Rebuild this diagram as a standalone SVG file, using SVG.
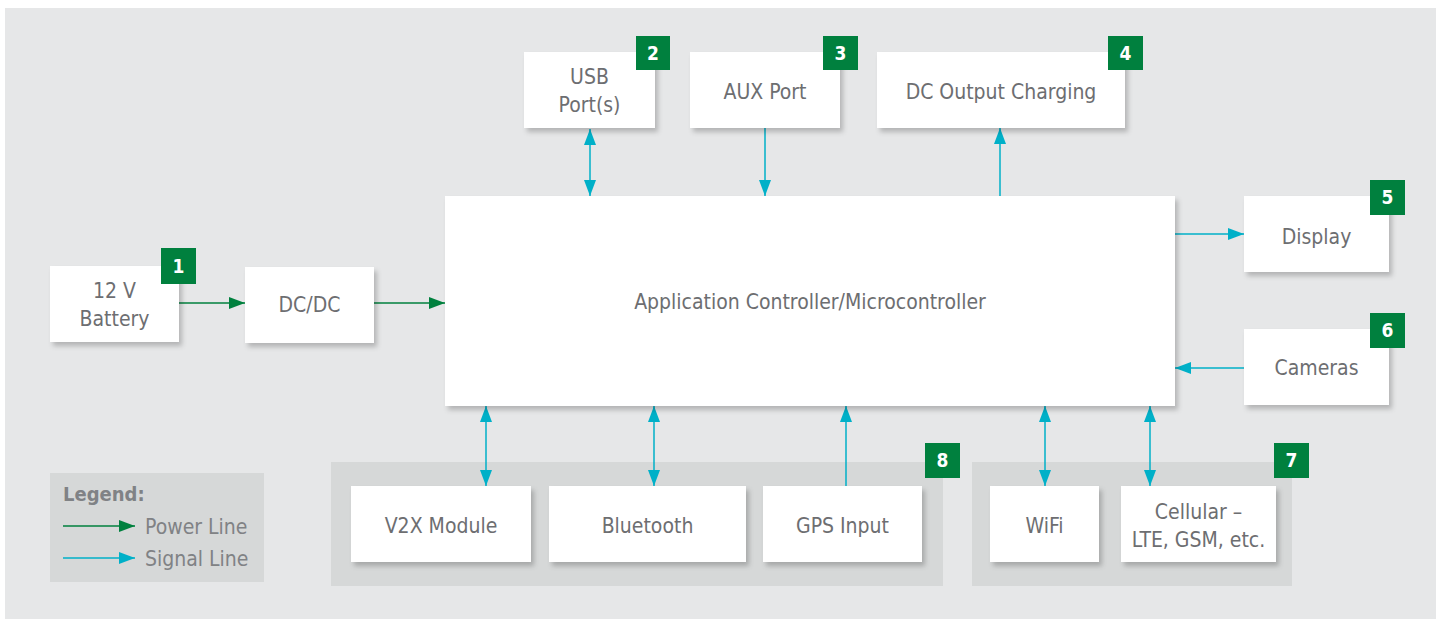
<svg xmlns="http://www.w3.org/2000/svg" width="1436" height="619" viewBox="0 0 1436 619">
<defs>
<style>
.bg{fill:#e6e7e8}
.grp{fill:#d6d8d8}
.box{fill:#ffffff;filter:url(#sh)}
.t{font-family:"Liberation Sans Narrow","DejaVu Sans Condensed","Liberation Sans",sans-serif;font-size:21px;fill:#6d6e71;text-anchor:middle}
.badge{fill:#00803e}
.bt{font-family:"Liberation Sans Narrow","DejaVu Sans Condensed","Liberation Sans",sans-serif;font-size:19px;font-weight:bold;fill:#ffffff;text-anchor:middle}
.sig{stroke:#00b0c8;stroke-width:1.5;fill:none}
.pow{stroke:#00803e;stroke-width:1.5;fill:none}
.lt{font-family:"Liberation Sans Narrow","DejaVu Sans Condensed","Liberation Sans",sans-serif;font-size:21px;fill:#808285}
</style>
<filter id="sh" x="-10%" y="-10%" width="125%" height="135%">
<feDropShadow dx="3" dy="4" stdDeviation="2.5" flood-color="#000" flood-opacity="0.22"/>
</filter>
<marker id="as" markerWidth="16" markerHeight="12" refX="16" refY="6" orient="auto-start-reverse" markerUnits="userSpaceOnUse">
<path d="M0,0 L16,6 L0,12 Z" fill="#00b0c8"/>
</marker>
<marker id="ap" markerWidth="16" markerHeight="12" refX="16" refY="6" orient="auto-start-reverse" markerUnits="userSpaceOnUse">
<path d="M0,0 L16,6 L0,12 Z" fill="#00803e"/>
</marker>
</defs>
<rect x="0" y="0" width="1436" height="619" fill="#ffffff"/>
<rect class="bg" x="5" y="8" width="1431" height="611"/>

<g id="group8">
<rect class="grp" x="331" y="462" width="612" height="124"/>
<rect class="badge" x="925" y="443" width="35" height="35"/>
<text class="bt" x="942.5" y="467">8</text>
</g>
<g id="group7">
<rect class="grp" x="972" y="462" width="320" height="124"/>
<rect class="badge" x="1274" y="443" width="35" height="35"/>
<text class="bt" x="1291.5" y="467">7</text>
</g>

<g id="legend">
<rect class="grp" x="50" y="473" width="214" height="109"/>
<text class="lt" x="63" y="501" font-weight="bold" style="font-size:20px">Legend:</text>
<line class="pow" x1="63" y1="526" x2="135" y2="526" marker-end="url(#ap)"/>
<text class="lt" x="145" y="534">Power Line</text>
<line class="sig" x1="63" y1="558" x2="135" y2="558" marker-end="url(#as)"/>
<text class="lt" x="145" y="566">Signal Line</text>
</g>

<g id="connectors">
<line class="pow" x1="179" y1="303" x2="245" y2="303" marker-end="url(#ap)"/>
<line class="pow" x1="374" y1="303" x2="445" y2="303" marker-end="url(#ap)"/>
<line class="sig" x1="590" y1="129" x2="590" y2="196" marker-start="url(#as)" marker-end="url(#as)"/>
<line class="sig" x1="765" y1="128" x2="765" y2="196" marker-end="url(#as)"/>
<line class="sig" x1="1000" y1="196" x2="1000" y2="128" marker-end="url(#as)"/>
<line class="sig" x1="1175" y1="234" x2="1244" y2="234" marker-end="url(#as)"/>
<line class="sig" x1="1244" y1="368" x2="1175" y2="368" marker-end="url(#as)"/>
<line class="sig" x1="486" y1="406" x2="486" y2="486" marker-start="url(#as)" marker-end="url(#as)"/>
<line class="sig" x1="654" y1="406" x2="654" y2="486" marker-start="url(#as)" marker-end="url(#as)"/>
<line class="sig" x1="846" y1="486" x2="846" y2="406" marker-end="url(#as)"/>
<line class="sig" x1="1045" y1="406" x2="1045" y2="486" marker-start="url(#as)" marker-end="url(#as)"/>
<line class="sig" x1="1150" y1="406" x2="1150" y2="486" marker-start="url(#as)" marker-end="url(#as)"/>
</g>

<g id="battery">
<rect class="box" x="50" y="266" width="129" height="76"/>
<text class="t" x="114.5" y="298">12 V</text>
<text class="t" x="114.5" y="326">Battery</text>
<rect class="badge" x="161" y="248" width="35" height="36"/>
<text class="bt" x="178.5" y="273">1</text>
</g>
<g id="dcdc">
<rect class="box" x="245" y="267" width="129" height="76"/>
<text class="t" x="309.5" y="312">DC/DC</text>
</g>
<g id="main">
<rect class="box" x="445" y="196" width="730" height="210"/>
<text class="t" x="810" y="309">Application Controller/Microcontroller</text>
</g>
<g id="usb">
<rect class="box" x="524" y="52" width="131" height="76"/>
<text class="t" x="589.5" y="84">USB</text>
<text class="t" x="589.5" y="112">Port(s)</text>
<rect class="badge" x="636" y="36" width="34" height="34"/>
<text class="bt" x="653" y="60">2</text>
</g>
<g id="aux">
<rect class="box" x="690" y="52" width="150" height="76"/>
<text class="t" x="765" y="99">AUX Port</text>
<rect class="badge" x="823" y="36" width="35" height="34"/>
<text class="bt" x="840.5" y="60">3</text>
</g>
<g id="dcout">
<rect class="box" x="877" y="52" width="248" height="76"/>
<text class="t" x="1001" y="99">DC Output Charging</text>
<rect class="badge" x="1108" y="36" width="35" height="34"/>
<text class="bt" x="1125.5" y="60">4</text>
</g>
<g id="display">
<rect class="box" x="1244" y="196" width="145" height="76"/>
<text class="t" x="1316.5" y="244">Display</text>
<rect class="badge" x="1370" y="180" width="35" height="35"/>
<text class="bt" x="1387.5" y="204">5</text>
</g>
<g id="cameras">
<rect class="box" x="1244" y="329" width="145" height="76"/>
<text class="t" x="1316.5" y="375">Cameras</text>
<rect class="badge" x="1370" y="313" width="35" height="35"/>
<text class="bt" x="1387.5" y="337">6</text>
</g>
<g id="v2x">
<rect class="box" x="351" y="486" width="180" height="76"/>
<text class="t" x="441" y="533">V2X Module</text>
</g>
<g id="bluetooth">
<rect class="box" x="549" y="486" width="197" height="76"/>
<text class="t" x="647.5" y="533">Bluetooth</text>
</g>
<g id="gps">
<rect class="box" x="763" y="486" width="159" height="76"/>
<text class="t" x="842.5" y="533">GPS Input</text>
</g>
<g id="wifi">
<rect class="box" x="990" y="486" width="109" height="76"/>
<text class="t" x="1044.5" y="533">WiFi</text>
</g>
<g id="cellular">
<rect class="box" x="1121" y="486" width="155" height="76"/>
<text class="t" x="1198.5" y="519">Cellular –</text>
<text class="t" x="1198.5" y="547">LTE, GSM, etc.</text>
</g>
</svg>
